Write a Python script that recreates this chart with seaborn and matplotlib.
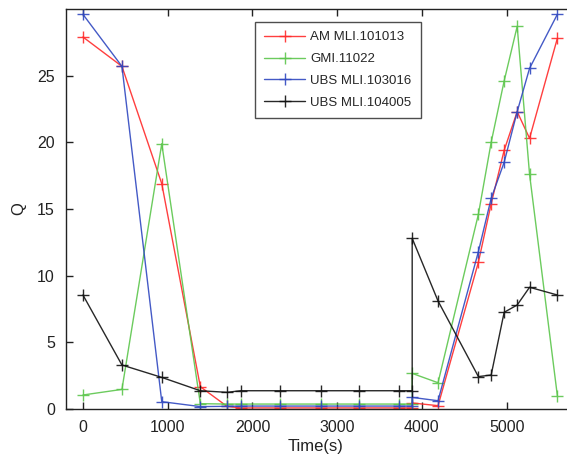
import matplotlib
matplotlib.use("Agg")
import matplotlib.pyplot as plt
import seaborn as sns
import pandas as pd

# Sampling times (s); the 3885 s sample appears twice where a new run starts
time_s = [0, 460, 930, 1385, 1700, 1860, 2330, 2805, 3258, 3730, 3885, 3885,
          4190, 4666, 4817, 4970, 5124, 5270, 5598]

am_101013 = [27.9, 25.7, 16.9, 1.67, 0.2, 0.08, 0.08, 0.08, 0.08, 0.08, 0.08, 0.45,
             0.25, 11.0, 15.4, 19.4, 22.3, 20.3, 27.8]
gmi_11022 = [1.05, 1.47, 19.9, 0.4, 0.37, 0.37, 0.37, 0.37, 0.37, 0.37, 0.37, 2.67,
             1.97, 14.6, 20.0, 24.6, 28.7, 17.6, 1.0]
ubs_103016 = [29.6, 25.7, 0.55, 0.18, 0.2, 0.22, 0.22, 0.22, 0.22, 0.22, 0.22, 0.87,
              0.62, 11.8, 15.8, 18.5, 22.3, 25.55, 29.6]
ubs_104005 = [8.55, 3.3, 2.37, 1.37, 1.25, 1.37, 1.37, 1.37, 1.37, 1.37, 1.37, 12.8,
              8.1, 2.43, 2.55, 7.25, 7.8, 9.13, 8.55]

series_names = ["AM MLI.101013", "GMI.11022", "UBS MLI.103016", "UBS MLI.104005"]
series_values = [am_101013, gmi_11022, ubs_103016, ubs_104005]
series_colors = ["#ff2a2a", "#5cc64c", "#3048c0", "#101010"]

x_ticks = [0, 1000, 2000, 3000, 4000, 5000]
y_ticks = [0, 5, 10, 15, 20, 25]

sns.set_style("white")
plt.rcParams["font.family"] = ["Liberation Sans", "DejaVu Sans"]

fig = plt.figure(figsize=(5.67, 4.63), dpi=100)
ax = fig.add_axes([66 / 567, 54 / 463, 500 / 567, 400 / 463])

for name, vals, col in zip(series_names, series_values, series_colors):
    df = pd.DataFrame({"Time(s)": time_s, "Q": vals})
    sns.lineplot(data=df, x="Time(s)", y="Q", ax=ax, estimator=None, sort=False,
                 color=col, linewidth=1.0, marker="+", markersize=8,
                 markeredgewidth=1.0, markeredgecolor=col, label=name,
                 legend=False, alpha=0.9)

ax.set_xlim(-200, 5700)
ax.set_ylim(0, 30)
ax.set_xticks(x_ticks)
ax.set_yticks(y_ticks)
ax.tick_params(direction="in", length=5, width=1, labelsize=11.5, colors="#222222",
               top=True, right=False, bottom=True, left=True, pad=8)
for s in ax.spines.values():
    s.set_color("#222222")
    s.set_linewidth(1.0)
ax.spines["right"].set_visible(False)

ax.set_xlabel("Time(s)", fontsize=12, color="#222222", labelpad=3)
ax.set_ylabel("Q", fontsize=12, color="#222222", labelpad=8)

leg = ax.legend(loc="upper left", bbox_to_anchor=(0.378, 0.9675), borderaxespad=0,
                frameon=True, fancybox=False, edgecolor="#222222", fontsize=9.5,
                handlelength=3.1, borderpad=0.7, labelspacing=0.72,
                handletextpad=0.4)
leg.get_frame().set_linewidth(1.0)

fig.savefig("out.png", dpi=100)
